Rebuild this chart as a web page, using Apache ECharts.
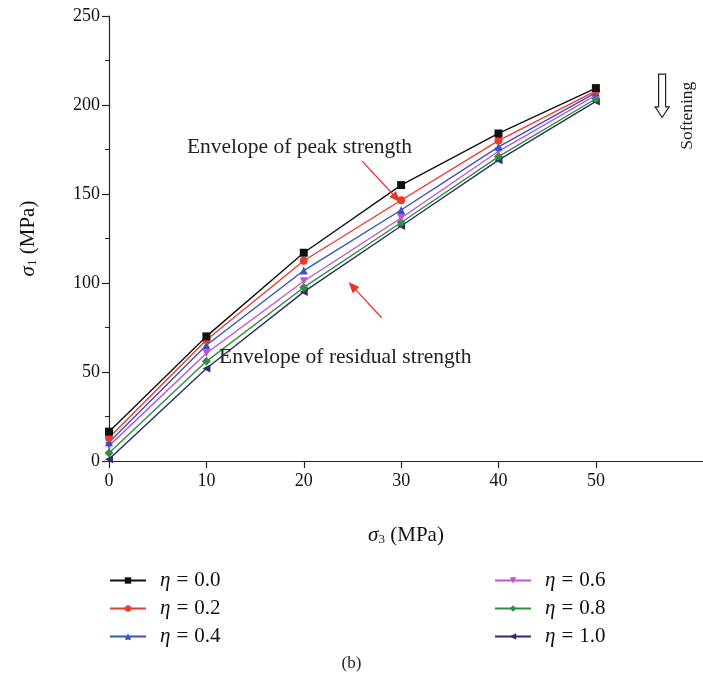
<!DOCTYPE html>
<html>
<head>
<meta charset="utf-8">
<script src="https://cdn.jsdelivr.net/npm/echarts@6/dist/echarts.min.js"></script>
<style>
html,body{margin:0;padding:0;background:#fff;}
#chart{width:703px;height:684px;}
</style>
</head>
<body>
<div id="chart"></div>
<script>
// ---- data ----
const sigma3 = [0, 10, 20, 30, 40, 50];
const eta00 = [16.5, 70, 117, 155, 184, 209.5];
const eta02 = [13, 68, 112.5, 146.5, 180, 208];
const eta04 = [10.5, 65, 107, 141, 176.5, 207];
const eta06 = [8.5, 60.5, 101, 136.5, 174, 205.5];
const eta08 = [4.5, 56, 97.5, 134, 171, 203.5];
const eta10 = [1, 52, 95, 132, 169, 202];
const seriesNames = ['η = 0.0', 'η = 0.2', 'η = 0.4', 'η = 0.6', 'η = 0.8', 'η = 1.0'];
const xTicks = [0, 10, 20, 30, 40, 50];

const FONT = '"Liberation Serif", "DejaVu Serif", serif';
const colors = ['#111111', '#ec3b2c', '#3553c0', '#c253d6', '#2f8f3c', '#2c2c70'];
const symbols = ['rect', 'circle', 'triangle', 'triangle', 'diamond', 'triangle'];
const rotations = [0, 0, 0, 180, 0, 90];
const sizes = [8, 8, 8, 8, 9, 8];
const allData = [eta00, eta02, eta04, eta06, eta08, eta10];

const chart = echarts.init(document.getElementById('chart'), null, {renderer: 'canvas'});

const series = allData.map((vals, i) => ({
  name: seriesNames[i],
  type: 'line',
  data: sigma3.map((x, j) => [x, vals[j]]),
  symbol: symbols[i],
  symbolRotate: rotations[i],
  symbolSize: sizes[i],
  showAllSymbol: true,
  lineStyle: {color: colors[i], width: 1.4},
  itemStyle: {color: colors[i]},
  z: 10 - i,
  animation: false
}));

const legendRich = {
  i: {fontStyle: 'italic', fontFamily: FONT, fontSize: 21, color: '#111', padding: [0, 0, 0, 9]},
  e: {fontFamily: FONT, fontSize: 21, color: '#111', padding: [0, 6]},
  n: {fontFamily: FONT, fontSize: 21, color: '#111'}
};
const legendCommon = {
  orient: 'vertical',
  itemWidth: 36,
  itemHeight: 8,
  itemGap: 7,
  textStyle: {fontFamily: FONT, fontSize: 21, color: '#111', rich: legendRich},
  formatter: name => '{i|η}{e|=}{n|' + name.split('= ')[1] + '}',
  selectedMode: false
};
const axisNameRich = {
  i: {fontStyle: 'italic', fontFamily: FONT, fontSize: 21, color: '#111'},
  s: {fontSize: 13, fontFamily: FONT, verticalAlign: 'bottom', padding: [9, 0, 0, 0], color: '#111'}
};

chart.setOption({
  animation: false,
  backgroundColor: '#fff',
  color: colors,
  grid: {left: 109, top: 16, width: 594, height: 445, containLabel: false},
  xAxis: {
    type: 'value',
    min: 0, max: 61, interval: 10,
    name: '{i|σ}{s|3} (MPa)',
    nameLocation: 'middle',
    nameGap: 63,
    nameTextStyle: {fontFamily: FONT, fontSize: 21, color: '#111', rich: axisNameRich},
    axisLine: {show: true, onZero: false, lineStyle: {color: '#222', width: 1.2}},
    axisTick: {show: true, inside: false, length: 7, lineStyle: {color: '#222', width: 1.2}, customValues: xTicks},
    minorTick: {show: false},
    axisLabel: {fontFamily: FONT, fontSize: 18, color: '#111', margin: 11, customValues: xTicks},
    splitLine: {show: false}
  },
  yAxis: {
    type: 'value',
    min: 0, max: 250, interval: 50,
    name: '{i|σ}{s|1} (MPa)',
    nameLocation: 'middle',
    nameGap: 70,
    nameRotate: 90,
    nameTextStyle: {fontFamily: FONT, fontSize: 21, color: '#111', rich: axisNameRich},
    axisLine: {show: true, onZero: false, lineStyle: {color: '#222', width: 1.2}},
    axisTick: {show: true, inside: false, length: 7, lineStyle: {color: '#222', width: 1.2}},
    minorTick: {show: true, splitNumber: 2, length: 4, lineStyle: {color: '#222', width: 1}},
    axisLabel: {fontFamily: FONT, fontSize: 18, color: '#111', margin: 9},
    splitLine: {show: false}
  },
  legend: [
    Object.assign({left: 104, top: 565, data: seriesNames.slice(0, 3)}, legendCommon),
    Object.assign({left: 489, top: 565, data: seriesNames.slice(3)}, legendCommon)
  ],
  series: series
});

// ---- annotations, positioned from data coordinates ----
function px(x, y) { return chart.convertToPixel({gridIndex: 0}, [x, y]); }
function arrow(from, to, color) {
  const a = px(from[0], from[1]), b = px(to[0], to[1]);
  const ang = Math.atan2(b[1] - a[1], b[0] - a[0]);
  const L = 11, W = 4.5;
  const bx = b[0] - L * Math.cos(ang), by = b[1] - L * Math.sin(ang);
  const nx = -Math.sin(ang), ny = Math.cos(ang);
  return [
    {type: 'line', shape: {x1: a[0], y1: a[1], x2: bx, y2: by}, style: {stroke: color, lineWidth: 1.3}, z: 100},
    {type: 'polygon', shape: {points: [[b[0], b[1]], [bx + nx * W, by + ny * W], [bx - nx * W, by - ny * W]]},
      style: {fill: color}, z: 100}
  ];
}
const peakText = px(8.0, 176);
const resText = px(11.3, 58);
const softTop = px(56.8, 217.3);
const softShaftEnd = px(56.8, 199);
const softTip = px(56.8, 193);
const softText = px(59.4, 194);

const g = [];
g.push({type: 'text', x: peakText[0], y: peakText[1], style: {text: 'Envelope of peak strength', font: '21.5px ' + FONT, fill: '#222', textVerticalAlign: 'middle'}, z: 100});
g.push({type: 'text', x: resText[0], y: resText[1], style: {text: 'Envelope of residual strength', font: '21.5px ' + FONT, fill: '#222', textVerticalAlign: 'middle'}, z: 100});
g.push(...arrow([26.0, 168.5], [29.9, 145.5], '#e8332a'));
g.push(...arrow([28.0, 80.5], [24.6, 100.5], '#e8332a'));
// hollow down arrow
const cx = softTop[0];
g.push({type: 'polygon', shape: {points: [
  [cx - 3.5, softTop[1]], [cx + 3.5, softTop[1]], [cx + 3.5, softShaftEnd[1]], [cx + 7, softShaftEnd[1]],
  [cx, softTip[1]], [cx - 7, softShaftEnd[1]], [cx - 3.5, softShaftEnd[1]]]},
  style: {fill: '#fff', stroke: '#222', lineWidth: 1.2}, z: 100});
g.push({type: 'text', x: softText[0], y: softText[1], rotation: Math.PI / 2,
  style: {text: 'Softening', font: '17.5px ' + FONT, fill: '#222', textAlign: 'center', textVerticalAlign: 'middle'}, z: 100});
g.push({type: 'text', left: 'center', top: 655, style: {text: '(b)', font: '17px ' + FONT, fill: '#222'}, z: 100});

chart.setOption({graphic: g});
</script>
</body>
</html>
